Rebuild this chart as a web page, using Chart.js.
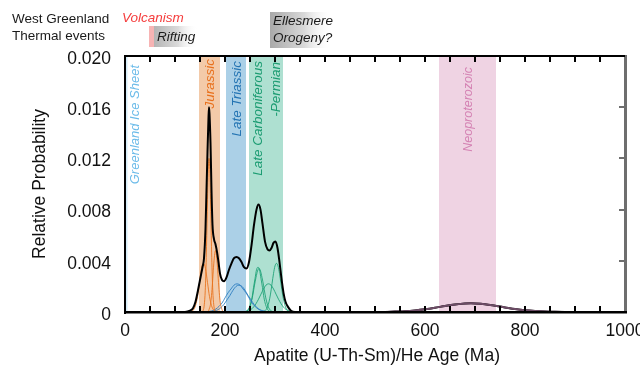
<!DOCTYPE html>
<html><head><meta charset="utf-8">
<script src="https://cdn.jsdelivr.net/npm/chart.js@4"></script>
<style>html,body{margin:0;padding:0;background:#fff}#wrap{width:640px;height:369px;position:relative}</style>
</head><body><div id="wrap"><canvas id="c"></canvas></div>
<script>
// ---------- DATA ----------
const xTicks = [0, 200, 400, 600, 800, 1000];
const xTickLabels = ['0', '200', '400', '600', '800', '1000'];
const yTicks = [0, 0.004, 0.008, 0.012, 0.016, 0.020];
const yTickLabels = ['0', '0.004', '0.008', '0.012', '0.016', '0.020'];

const bandNames = ['Greenland Ice Sheet', 'Jurassic', 'Late Triassic', 'Late Carboniferous\n-Permian', 'Neoproterozoic'];
const bandStart = [0, 148, 202, 248, 628];
const bandEnd   = [5, 190, 242, 316, 742];

const eventNames = ['Volcanism', 'Rifting', 'Ellesmere\nOrogeny?'];
const eventStart = [48, 58, 290];
const eventEnd   = [58, 145, 416];

// summed probability curve
const sumAge = [0,120,130,136,141,146,151,155,158,161,163,165,167,168,169,171,173,175,178,181,184,187,190,194,198,203,208,213,218,223,228,233,238,243,248,253,258,263,267,271,275,280,285,289,293,297,301,305,309,313,317,321,326,332,340,400,520,540,560,580,600,620,640,660,680,692,700,720,740,760,780,800,820,840,860,880,1000];
const sumVal = [0,0,0.0001,0.0003,0.0008,0.0017,0.0027,0.0035,0.0042,0.0065,0.0095,0.0125,0.0152,0.0160,0.0155,0.0132,0.0095,0.0068,0.0057,0.0053,0.0047,0.0039,0.0030,0.0025,0.0024,0.0027,0.0033,0.0038,0.0042,0.0043,0.0042,0.0039,0.0035,0.0034,0.0039,0.0052,0.0068,0.0080,0.0084,0.0080,0.0069,0.0055,0.0049,0.0048,0.0050,0.0054,0.0055,0.0050,0.0039,0.0026,0.0015,0.0008,0.0004,0.0001,0,0,0,0.00003,0.00006,0.00012,0.00021,0.00033,0.00047,0.00059,0.00067,0.00068,0.00067,0.00061,0.00049,0.00036,0.00023,0.00013,0.00007,0.00003,0.00001,0,0];

// Jurassic grain curves
const jurAAge = [129,133,137,141,145,149,153,157,161,165,169,173,177,181,185];
const jurAVal = [0,0.00004,0.00017,0.0005,0.0012,0.0023,0.0034,0.0038,0.0034,0.0023,0.0012,0.0005,0.00017,0.00004,0];
const jurBAge = [154,156,158,160,161,162,163,164,165,166,167,168,169,170,171,172,173,174,175,176,178,180,182];
const jurBVal = [0,0.0001,0.0004,0.0013,0.0022,0.0035,0.0051,0.0069,0.0088,0.0105,0.0116,0.0120,0.0116,0.0105,0.0088,0.0069,0.0051,0.0035,0.0022,0.0013,0.0004,0.0001,0];
const jurCAge = [165,167,169,171,173,175,177,179,181,183,185,187,189,191,193,195,197];
const jurCVal = [0,0.0001,0.0003,0.0006,0.0013,0.0023,0.0035,0.0044,0.0048,0.0044,0.0035,0.0023,0.0013,0.0006,0.0003,0.0001,0];

// Late Triassic grain curves
const triAAge = [158,164,170,176,182,188,194,200,206,212,218,224,230,236,242,248,254,260,266,272,278,284,290];
const triAVal = [0,0.00002,0.00006,0.00012,0.00024,0.00044,0.0007,0.0011,0.0015,0.0018,0.0021,0.0022,0.0021,0.0018,0.0015,0.0011,0.0007,0.00044,0.00024,0.00012,0.00006,0.00002,0];
const triBAge = [162,168,174,180,186,192,198,204,210,216,222,228,234,240,246,252,258,264,270,276,282,288,294];
const triBVal = [0,0.00001,0.00004,0.00009,0.00018,0.00035,0.0006,0.00095,0.0013,0.0017,0.0020,0.0021,0.0020,0.0017,0.0013,0.00095,0.0006,0.00035,0.00018,0.00009,0.00004,0.00001,0];

// Late Carboniferous-Permian grain curves
const carAAge = [239,242,245,248,251,254,257,260,263,266,269,272,275,278,281,284,287,290,293];
const carAVal = [0,0.00004,0.00011,0.00028,0.0006,0.0011,0.0019,0.0026,0.0033,0.0035,0.0033,0.0026,0.0019,0.0011,0.0006,0.00028,0.00011,0.00004,0];
const carBAge = [238,241,244,247,250,253,256,259,262,265,268,271,274,277,280,283,286,289,292,295,298];
const carBVal = [0,0.00004,0.0001,0.00022,0.00046,0.00085,0.0014,0.0021,0.0027,0.0032,0.0034,0.0032,0.0027,0.0021,0.0014,0.00085,0.00046,0.00022,0.0001,0.00004,0];
const carCAge = [237,242,247,252,257,262,267,272,277,282,287,292,297,302,307,312,317,322,327,332,337];
const carCVal = [0,0.00004,0.0001,0.0002,0.00038,0.00065,0.001,0.0014,0.0018,0.0021,0.0022,0.0021,0.0018,0.0014,0.001,0.00065,0.00038,0.0002,0.0001,0.00004,0];
const carDAge = [273,276,279,282,285,288,291,294,297,300,303,306,309,312,315,318,321,324,327,330,333];
const carDVal = [0,0.00002,0.00007,0.00018,0.0004,0.0008,0.0014,0.0022,0.0030,0.0036,0.0038,0.0036,0.0030,0.0022,0.0014,0.0008,0.0004,0.00018,0.00007,0.00002,0];

// Neoproterozoic grain curve
const neoAge = [520,540,560,580,600,620,640,660,680,692,700,720,740,760,780,800,820,840,860,880];
const neoVal = [0,0.00003,0.00006,0.00012,0.00021,0.00033,0.00047,0.00059,0.00067,0.00068,0.00067,0.00061,0.00049,0.00036,0.00023,0.00013,0.00007,0.00003,0.00001,0];

// ---------- STYLE ----------
const FAM = '"Liberation Sans", Arial, Helvetica, sans-serif';
const bandFill  = ['#d3ebf8', '#f3caa9', '#abd0e7', '#aee0d1', '#efd3e3'];
const bandText  = ['#6bbbe9', '#e8701c', '#2474b3', '#1c9c72', '#d482b3'];
const bandTop   = [9, 3, 5, 5, 11];
const bandFont  = [13, 13.5, 13.5, 13.5, 12.5];
const orangeLine = 'rgba(232,112,25,0.85)';
const blueLine = 'rgba(40,122,190,0.85)';
const greenLine = 'rgba(25,160,115,0.85)';

const pts = (a, v) => a.map((x, i) => ({x: x, y: v[i]}));
const comp = (a, v, c, o) => ({data: pts(a, v), borderColor: c, borderWidth: 1, order: o, fill: false});

const datasets = [
  {data: pts(neoAge, neoVal), borderColor: '#6d4c66', borderWidth: 2, order: 0, fill: false},
  {data: pts(sumAge, sumVal), borderColor: '#000', borderWidth: 2, order: 1, fill: false},
  comp(jurAAge, jurAVal, orangeLine, 2),
  comp(jurBAge, jurBVal, orangeLine, 2),
  comp(jurCAge, jurCVal, orangeLine, 2),
  comp(triAAge, triAVal, blueLine, 3),
  comp(triBAge, triBVal, blueLine, 3),
  comp(carAAge, carAVal, greenLine, 4),
  comp(carBAge, carBVal, greenLine, 4),
  comp(carCAge, carCVal, greenLine, 4),
  comp(carDAge, carDVal, greenLine, 4)
];

const bandPlugin = {
  id: 'bands',
  beforeDatasetsDraw(chart) {
    const {ctx, chartArea: a, scales: {x}} = chart;
    ctx.save();
    bandStart.forEach((s, i) => {
      const x0 = x.getPixelForValue(s), x1 = x.getPixelForValue(bandEnd[i]);
      ctx.fillStyle = bandFill[i];
      ctx.fillRect(x0, a.top, x1 - x0, a.bottom - a.top);
    });
    bandStart.forEach((s, i) => {
      const x0 = x.getPixelForValue(s), x1 = x.getPixelForValue(bandEnd[i]);
      const lines = bandNames[i].split('\n');
      const cx = i === 0 ? x1 + 7.5 : (x0 + x1) / 2 + 1;
      ctx.fillStyle = bandText[i];
      ctx.font = 'italic ' + bandFont[i] + 'px ' + FAM;
      ctx.textAlign = 'right';
      ctx.textBaseline = 'middle';
      lines.forEach((t, k) => {
        const lx = cx + (k - (lines.length - 1) / 2) * 18;
        ctx.save();
        ctx.translate(lx, a.top + bandTop[i] + (k ? 1 : 0));
        ctx.rotate(-Math.PI / 2);
        ctx.fillText(t, 0, 0);
        ctx.restore();
      });
    });
    ctx.restore();
  }
};

const framePlugin = {
  id: 'frame',
  afterDraw(chart) {
    const {ctx, chartArea: a, scales: {x, y}} = chart;
    const L = Math.round(a.left), R = Math.round(a.right), T = Math.round(a.top), B = Math.round(a.bottom);
    ctx.save();
    // right side: grey border + inward ticks
    ctx.fillStyle = '#6e6e6e';
    yTicks.slice(1, -1).forEach(v => {
      const py = Math.round(y.getPixelForValue(v));
      ctx.fillRect(R - 6, py - 1, 6, 2);
    });
    ctx.fillRect(R - 1, T - 1, 3, B - T + 2);
    // black frame + inward ticks top/bottom
    ctx.fillStyle = '#000';
    for (let v = 50; v < 1000; v += 50) {
      const px = Math.round(x.getPixelForValue(v));
      ctx.fillRect(px - 1, B - 6, 2, 6);
      ctx.fillRect(px - 1, T, 2, 6);
    }
    ctx.fillRect(L - 1, T - 1, R - L + 1, 2);
    ctx.fillRect(L - 1, T - 1, 2, B - T + 3);
    ctx.fillRect(L - 1, B - 1, R - L + 3, 2.5);

    // axis titles
    ctx.fillStyle = '#111';
    ctx.font = '17.5px ' + FAM;
    ctx.textAlign = 'center';
    ctx.textBaseline = 'middle';
    ctx.fillText('Apatite (U-Th-Sm)/He Age (Ma)', (a.left + a.right) / 2 + 2, 356);
    ctx.save();
    ctx.translate(40, (a.top + a.bottom) / 2);
    ctx.rotate(-Math.PI / 2);
    ctx.fillText('Relative Probability', 0, 0);
    ctx.restore();
    // thermal events header
    ctx.textAlign = 'left';
    ctx.font = '13.5px ' + FAM;
    ctx.fillStyle = '#1a1a1a';
    ctx.fillText('West Greenland', 12, 19);
    ctx.fillText('Thermal events', 12, 36);
    // volcanism
    const v0 = x.getPixelForValue(eventStart[0]), v1 = x.getPixelForValue(eventEnd[0]);
    ctx.fillStyle = '#f7b4b4';
    ctx.fillRect(v0, 26, v1 - v0, 21);
    ctx.font = 'italic 13.5px ' + FAM;
    ctx.fillStyle = '#f53c3c';
    ctx.fillText(eventNames[0], v0 - 27, 18);
    // rifting
    const r0 = x.getPixelForValue(eventStart[1]), r1 = x.getPixelForValue(eventEnd[1]);
    let g = ctx.createLinearGradient(r0, 0, r1, 0);
    g.addColorStop(0, '#b4b4b4'); g.addColorStop(0.55, '#dadada'); g.addColorStop(1, 'rgba(255,255,255,0)');
    ctx.fillStyle = g;
    ctx.fillRect(r0, 26, r1 - r0, 21);
    ctx.fillStyle = '#1a1a1a';
    ctx.fillText(eventNames[1], r0 + 3, 37);
    // ellesmere
    const e0 = x.getPixelForValue(eventStart[2]), e1 = x.getPixelForValue(eventEnd[2]);
    g = ctx.createLinearGradient(e0, 0, e1, 0);
    g.addColorStop(0, '#a9a9a9'); g.addColorStop(0.55, '#d9d9d9'); g.addColorStop(1, 'rgba(255,255,255,0)');
    ctx.fillStyle = g;
    ctx.fillRect(e0, 12, e1 - e0, 36);
    ctx.fillStyle = '#1a1a1a';
    const el = eventNames[2].split('\n');
    ctx.fillText(el[0], e0 + 3, 21);
    ctx.fillText(el[1], e0 + 3, 38);
    ctx.restore();
  }
};

new Chart(document.getElementById('c'), {
  type: 'line',
  data: {datasets: datasets},
  options: {
    responsive: true,
    maintainAspectRatio: false,
    animation: false,
    layout: {padding: {top: 56, right: 15, left: 0, bottom: 0}},
    plugins: {legend: {display: false}, tooltip: {enabled: false}},
    elements: {point: {radius: 0}, line: {cubicInterpolationMode: 'monotone'}},
    scales: {
      x: {
        type: 'linear', min: 0, max: 1000,
        afterBuildTicks(s) { s.ticks = xTicks.map(v => ({value: v})); },
        grid: {display: false, drawTicks: false},
        border: {display: false},
        ticks: {
          font: {size: 17.5, family: FAM}, color: '#111', padding: 9, maxRotation: 0, autoSkip: false,
          callback(v) { const i = xTicks.indexOf(v); return i >= 0 ? xTickLabels[i] : ''; }
        },
        afterFit(s) { s.height = 57; s.paddingLeft = 0; s.paddingRight = 0; }
      },
      y: {
        type: 'linear', min: 0, max: 0.02,
        afterBuildTicks(s) { s.ticks = yTicks.map(v => ({value: v})); },
        grid: {display: false, drawTicks: false},
        border: {display: false},
        ticks: {
          font: {size: 17.5, family: FAM}, color: '#111', padding: 14, autoSkip: false, labelOffset: 3,
          callback(v) { const i = yTicks.findIndex(t => Math.abs(t - v) < 1e-9); return i >= 0 ? yTickLabels[i] : ''; }
        },
        afterFit(s) { s.width = 125; s.paddingTop = 0; s.paddingBottom = 0; }
      }
    }
  },
  plugins: [bandPlugin, framePlugin]
});
</script>
</body></html>
